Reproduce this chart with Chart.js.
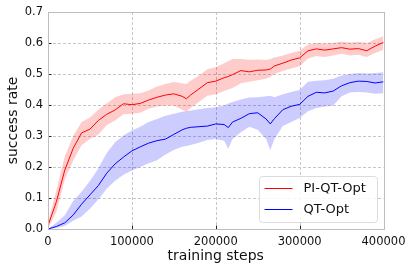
<!DOCTYPE html>
<html>
<head>
<meta charset="utf-8">
<script src="https://cdn.jsdelivr.net/npm/chart.js@4/dist/chart.umd.min.js"></script>
<style>
html,body{margin:0;padding:0;background:#fff;}
#wrap{width:412px;height:271px;position:relative;}
</style>
</head>
<body>
<div id="wrap"><canvas id="c" width="412" height="271"></canvas></div>
<script>
const steps = [0,10000,20000,30000,40000,50000,60000,70000,80000,90000,100000,110000,120000,130000,140000,150000,160000,165000,170000,180000,190000,200000,210000,215000,220000,230000,240000,250000,260000,265000,270000,280000,290000,300000,310000,320000,330000,340000,350000,360000,370000,380000,390000,400000];

const piMean  = [0.011,0.088,0.19,0.26,0.31,0.322,0.35,0.37,0.384,0.404,0.401,0.405,0.416,0.425,0.432,0.436,0.428,0.42,0.432,0.452,0.472,0.477,0.488,0.492,0.498,0.511,0.507,0.512,0.513,0.516,0.526,0.535,0.545,0.552,0.575,0.581,0.577,0.581,0.585,0.580,0.582,0.575,0.590,0.602];
const piUpper = [0.02,0.125,0.235,0.3,0.345,0.36,0.385,0.405,0.425,0.435,0.436,0.438,0.447,0.46,0.468,0.474,0.47,0.468,0.478,0.495,0.515,0.522,0.535,0.542,0.548,0.548,0.546,0.547,0.545,0.548,0.553,0.56,0.568,0.575,0.595,0.6,0.598,0.6,0.605,0.602,0.604,0.6,0.612,0.622];
const piLower = [0.0,0.055,0.16,0.22,0.27,0.29,0.305,0.335,0.35,0.37,0.372,0.375,0.388,0.395,0.398,0.398,0.385,0.378,0.39,0.41,0.43,0.435,0.445,0.45,0.455,0.47,0.475,0.48,0.485,0.49,0.5,0.51,0.518,0.525,0.55,0.558,0.555,0.56,0.565,0.56,0.562,0.555,0.568,0.578];

const qtMean  = [0.0,0.008,0.02,0.045,0.08,0.11,0.14,0.18,0.21,0.232,0.252,0.265,0.277,0.285,0.29,0.305,0.32,0.325,0.328,0.33,0.332,0.339,0.337,0.327,0.345,0.357,0.372,0.375,0.355,0.339,0.356,0.385,0.396,0.402,0.428,0.441,0.439,0.445,0.462,0.472,0.477,0.476,0.471,0.475];
const qtUpper = [0.0,0.02,0.044,0.09,0.12,0.155,0.195,0.245,0.28,0.302,0.318,0.33,0.345,0.355,0.365,0.372,0.378,0.38,0.382,0.386,0.39,0.393,0.398,0.405,0.41,0.418,0.424,0.425,0.428,0.43,0.425,0.435,0.442,0.448,0.475,0.478,0.48,0.485,0.495,0.5,0.503,0.502,0.503,0.506];
const qtLower = [0.0,0.003,0.01,0.027,0.04,0.065,0.095,0.13,0.156,0.175,0.189,0.2,0.212,0.222,0.24,0.255,0.265,0.268,0.271,0.278,0.287,0.29,0.285,0.259,0.29,0.312,0.33,0.32,0.29,0.255,0.29,0.332,0.345,0.358,0.38,0.39,0.395,0.398,0.428,0.44,0.442,0.44,0.436,0.438];

const xTicks = [0,100000,200000,300000,400000];
const yTicks = [0.0,0.1,0.2,0.3,0.4,0.5,0.6,0.7];
const seriesNames = ['PI-QT-Opt','QT-Opt'];

const FONT = '"DejaVu Sans", sans-serif';
const pts = arr => arr.map((v,i)=>({x:steps[i], y:v}));

const dashedGrid = {
  id:'dashedGrid',
  beforeDatasetsDraw(chart){
    const {ctx, chartArea:a, scales:{x,y}} = chart;
    ctx.save();
    ctx.strokeStyle = '#c6c6c6';
    ctx.lineWidth = 1;
    ctx.setLineDash([3,2]);
    ctx.beginPath();
    yTicks.forEach(v=>{ const py=Math.round(y.getPixelForValue(v))+0.5; ctx.moveTo(a.left,py); ctx.lineTo(a.right,py); });
    xTicks.forEach(v=>{ const px=Math.round(x.getPixelForValue(v))+0.5; ctx.moveTo(px,a.top); ctx.lineTo(px,a.bottom); });
    ctx.stroke();
    ctx.restore();
  }
};

const frameAndTicks = {
  id:'frameAndTicks',
  afterDatasetsDraw(chart){
    const {ctx, chartArea:a, scales:{x,y}} = chart;
    ctx.save();
    ctx.strokeStyle = '#222';
    ctx.lineWidth = 1;
    ctx.beginPath();
    yTicks.forEach(v=>{ const py=Math.round(y.getPixelForValue(v))+0.5; ctx.moveTo(a.left,py); ctx.lineTo(a.left+3.5,py); });
    xTicks.forEach(v=>{ const px=Math.round(x.getPixelForValue(v))+0.5; ctx.moveTo(px,a.bottom); ctx.lineTo(px,a.bottom-3.5); });
    ctx.stroke();
    ctx.strokeStyle = '#bdbdbd';
    ctx.strokeRect(Math.round(a.left)+0.5, Math.round(a.top)+0.5, Math.round(a.right-a.left), Math.round(a.bottom-a.top));
    // legend
    const w=118, h=46;
    const lx = a.right - 7 - w, ly = a.bottom - 7 - h;
    ctx.fillStyle = 'rgba(255,255,255,0.85)';
    ctx.strokeStyle = '#dcdcdc';
    ctx.beginPath();
    if (ctx.roundRect) ctx.roundRect(Math.round(lx)+0.5, Math.round(ly)+0.5, w, h, 3); else ctx.rect(Math.round(lx)+0.5, Math.round(ly)+0.5, w, h);
    ctx.fill(); ctx.stroke();
    const cols = ['#ff0000','#0000ff'];
    ctx.font = '13px ' + FONT;
    ctx.textBaseline = 'middle';
    ctx.textAlign = 'left';
    seriesNames.forEach((n,i)=>{
      const yy = ly + 12 + i*21;
      ctx.strokeStyle = cols[i];
      ctx.lineWidth = 1;
      ctx.beginPath();
      ctx.moveTo(lx+6, Math.round(yy)+0.5); ctx.lineTo(lx+34, Math.round(yy)+0.5);
      ctx.stroke();
      ctx.fillStyle = '#111';
      ctx.fillText(n, lx+45, yy+1);
    });
    ctx.restore();
  }
};

new Chart(document.getElementById('c'), {
  type:'line',
  data:{
    datasets:[
      {label:seriesNames[0], data:pts(piMean), borderColor:'#ff0000', borderWidth:1, pointRadius:0, fill:false, tension:0},
      {label:seriesNames[1], data:pts(qtMean), borderColor:'#0000ff', borderWidth:1, pointRadius:0, fill:false, tension:0},
      {label:'pi-up', data:pts(piUpper), borderWidth:0, borderColor:'rgba(0,0,0,0)', pointRadius:0, backgroundColor:'rgba(255,0,0,0.2)', fill:'+1', tension:0},
      {label:'pi-lo', data:pts(piLower), borderWidth:0, borderColor:'rgba(0,0,0,0)', pointRadius:0, fill:false, tension:0},
      {label:'qt-up', data:pts(qtUpper), borderWidth:0, borderColor:'rgba(0,0,0,0)', pointRadius:0, backgroundColor:'rgba(0,0,255,0.2)', fill:'+1', tension:0},
      {label:'qt-lo', data:pts(qtLower), borderWidth:0, borderColor:'rgba(0,0,0,0)', pointRadius:0, fill:false, tension:0}
    ]
  },
  options:{
    responsive:false,
    animation:false,
    layout:{padding:{left:0, right:28.5, top:12, bottom:0}},
    plugins:{legend:{display:false}, tooltip:{enabled:false}},
    scales:{
      x:{
        type:'linear', min:0, max:400000,
        afterFit(s){ s.height = 42; },
        afterBuildTicks(s){ s.ticks = xTicks.map(v=>({value:v})); },
        ticks:{callback:v=>String(v), font:{family:FONT, size:11.5}, color:'#111', padding:6, maxRotation:0, autoSkip:false},
        grid:{display:false, drawTicks:false, tickLength:0},
        border:{display:false},
        title:{display:true, text:'training steps', font:{family:FONT, size:14}, color:'#111', padding:{top:0,bottom:6.5}}
      },
      y:{
        min:0, max:0.7,
        afterFit(s){ s.width = 48; },
        afterBuildTicks(s){ s.ticks = yTicks.map(v=>({value:v})); },
        ticks:{callback:v=>Number(v).toFixed(1), font:{family:FONT, size:11.5}, color:'#111', padding:5},
        grid:{display:false, drawTicks:false, tickLength:0},
        border:{display:false},
        title:{display:true, text:'success rate', font:{family:FONT, size:14}, color:'#111', padding:{top:4.5,bottom:0}}
      }
    }
  },
  plugins:[dashedGrid, frameAndTicks]
});
</script>
</body>
</html>
